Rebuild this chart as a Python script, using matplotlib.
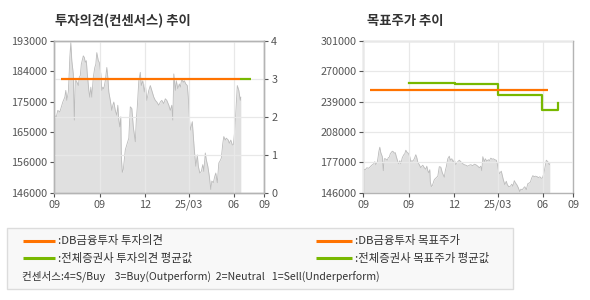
import matplotlib
matplotlib.use('Agg')
import matplotlib.pyplot as plt
from matplotlib.patches import Rectangle
from matplotlib.lines import Line2D
import numpy as np

plt.rcParams['font.family'] = ['Noto Sans CJK KR', 'DejaVu Sans']

# ---- data ----
price_days = [0, 4, 7, 11, 14, 17, 21, 23, 25, 28, 30, 31, 33, 35, 38, 40, 42, 44, 48, 50,
              52, 54, 58, 60, 62, 64, 66, 69, 71, 73, 75, 78, 81, 83, 85, 88, 90, 93, 95, 97,
              99, 102, 105, 107, 109, 112, 115, 117, 119, 122, 125, 127, 129, 131, 133, 134, 136, 138, 142, 145,
              149, 152, 155, 158, 162, 164, 166, 169, 172, 174, 177, 180, 182, 185, 189, 192, 195, 199, 202, 205,
              209, 212, 215, 219, 222, 225, 229, 232, 235, 237, 239, 242, 244, 247, 250, 252, 255, 258, 260, 263,
              266, 268, 270, 272, 276, 278, 280, 283, 286, 288, 291, 294, 297, 299, 302, 304, 307, 310, 313, 315,
              318, 321, 323, 326, 329, 331, 334, 337, 339, 342, 344, 348, 350, 353, 356, 358, 361, 364, 366, 369,
              372, 373]
price_values = [170000, 169500, 171500, 171000, 172600, 174100, 175600, 177700, 174600, 177200,
                183800, 187900, 192500, 186900, 182800, 168500, 180700, 180700, 179200, 181800,
                182300, 185800, 188400, 187900, 186400, 186900, 182800, 177700, 175600, 178700,
                175600, 181800, 184800, 185800, 189400, 186900, 186400, 182800, 177700, 178700,
                178200, 180700, 184800, 181800, 177200, 174600, 171500, 173100, 174100, 171500,
                170000, 173100, 168500, 166400, 169500, 157200, 152300, 153200, 159300, 160800,
                162900, 172600, 172100, 166400, 161800, 168500, 172600, 180700, 183300, 179200,
                180700, 177200, 179700, 174600, 177700, 179200, 177700, 175600, 174600, 174100,
                173100, 174100, 174600, 173600, 175100, 174600, 173100, 171500, 173100, 168500,
                182800, 177700, 180700, 178200, 179700, 178700, 181300, 180200, 180700, 179700,
                179200, 175600, 169500, 165400, 168000, 163400, 159300, 154200, 157700, 154200,
                152100, 152600, 154700, 152600, 158300, 156200, 154200, 151100, 147000, 149600,
                149100, 151100, 152100, 149100, 155200, 155700, 156700, 161300, 163400, 162300,
                162900, 162300, 161300, 162300, 160800, 160800, 165400, 173600, 179200, 177700,
                174600, 175600]

consensus_db_days = [13, 372]
consensus_db = [3, 3]
consensus_avg_days = [372, 393]
consensus_avg = [3, 3]

target_db_days = [13, 369]
target_db = [250500, 250500]
target_avg_days = [92, 183, 269, 357, 390]
target_avg = [258400, 257400, 246000, 230700, 237300]

x_ticks = [0, 91, 182, 269, 359, 420]
x_labels = ['09', '09', '12', '25/03', '06', '09']
left_price_labels = ['146000', '156000', '165000', '175000', '184000', '193000']
consensus_ticks = [0, 1, 2, 3, 4]
target_ticks = [146000, 177000, 208000, 239000, 270000, 301000]

# ---- style ----
ORANGE = '#ff7300'
GREEN = '#78b800'
FILL = '#e0e0e0'
PLINE = '#bbbbbb'
GRID = '#e8e8e8'
SPINE = '#b4b4b4'
TICKC = '#555555'

W, H = 590, 300
fig = plt.figure(figsize=(5.9, 3.0), dpi=100)


def style(ax):
    for s in ax.spines.values():
        s.set_color(SPINE)
        s.set_linewidth(1.0)
    ax.tick_params(labelsize=7.8, colors=TICKC, length=3, width=0.8, pad=2)
    for t in ax.get_xticklabels() + ax.get_yticklabels():
        t.set_color(TICKC)


def ax_rect(left_px, right_px, top_px, bottom_px):
    return [left_px / W, 1 - bottom_px / H, (right_px - left_px) / W, (bottom_px - top_px) / H]


# ---- left chart: consensus ----
ax1 = fig.add_axes(ax_rect(54.3, 264.3, 41, 192.7))
ax1.fill_between(price_days, price_values, 146000, color=FILL, lw=0, zorder=1)
ax1.plot(price_days, price_values, color=PLINE, lw=0.6, zorder=1.5)
ax1.set_xlim(0, 420)
ax1.set_ylim(146000, 193000)
ax1.set_xticks(x_ticks)
ax1.set_xticklabels(x_labels)
ax1.set_yticks(np.linspace(146000, 193000, 6))
ax1.set_yticklabels(left_price_labels)
ax1.grid(axis='x', color=GRID, lw=0.9)
ax1.set_axisbelow(False)
style(ax1)

ax1r = ax1.twinx()
ax1r.set_ylim(0, 4)
ax1r.set_yticks(consensus_ticks)
ax1r.grid(axis='y', color=GRID, lw=0.9, zorder=2)
ax1r.plot(consensus_avg_days, consensus_avg, color=GREEN, lw=1.6, solid_capstyle='butt', zorder=3)
ax1r.plot(consensus_db_days, consensus_db, color=ORANGE, lw=1.6, solid_capstyle='butt', zorder=4)
ax1r.set_xlim(0, 420)
style(ax1r)

# ---- right chart: target price ----
ax2 = fig.add_axes(ax_rect(363.3, 573.3, 41, 192.7))
ax2.fill_between(price_days, price_values, 146000, color=FILL, lw=0, zorder=1)
ax2.plot(price_days, price_values, color=PLINE, lw=0.6, zorder=1.5)
ax2.set_xlim(0, 420)
ax2.set_ylim(146000, 301000)
ax2.set_xticks(x_ticks)
ax2.set_xticklabels(x_labels)
ax2.set_yticks(target_ticks)
ax2.set_yticklabels([str(v) for v in target_ticks])
ax2.grid(color=GRID, lw=0.9)
ax2.set_axisbelow(False)
ax2.plot(target_avg_days, target_avg, color=GREEN, lw=1.6, drawstyle='steps-post', zorder=3)
ax2.plot(target_db_days, target_db, color=ORANGE, lw=1.6, solid_capstyle='butt', zorder=4)
ax2.tick_params(right=False)
style(ax2)

# ---- titles ----
fig.text(55 / W, 1 - 21 / H, '투자의견(컨센서스) 추이', fontsize=9.6, fontweight='bold',
         color='#333333', va='center', ha='left')
fig.text(366.7 / W, 1 - 21 / H, '목표주가 추이', fontsize=9.6, fontweight='bold',
         color='#333333', va='center', ha='left')

# ---- legend box ----
fig.patches.append(Rectangle((7.3 / W, 1 - 289.3 / H), (513 - 7.3) / W, 61 / H,
                             transform=fig.transFigure, facecolor='#f8f8f8',
                             edgecolor='#dcdcdc', lw=1.0, zorder=0))

legend_items = [
    (22.7, 55.0, 240.7, ORANGE, ':DB금융투자 투자의견'),
    (22.7, 55.0, 258.3, GREEN, ':전체증권사 투자의견 평균값'),
    (316.0, 351.7, 240.7, ORANGE, ':DB금융투자 목표주가'),
    (316.0, 351.7, 258.3, GREEN, ':전체증권사 목표주가 평균값'),
]
for x0, x1, y, c, label in legend_items:
    fig.add_artist(Line2D([x0 / W, x1 / W], [1 - y / H, 1 - y / H], color=c, lw=2.2,
                          transform=fig.transFigure, solid_capstyle='butt'))
    fig.text((x1 + 3) / W, 1 - y / H, label, fontsize=8.2, color='#333333',
             va='center', ha='left')

fig.text(21.7 / W, 1 - 276.7 / H,
         '컨센서스:4=S/Buy    3=Buy(Outperform)  2=Neutral   1=Sell(Underperform)',
         fontsize=7.6, color='#333333', va='center', ha='left')

fig.savefig('out.png', dpi=100)
